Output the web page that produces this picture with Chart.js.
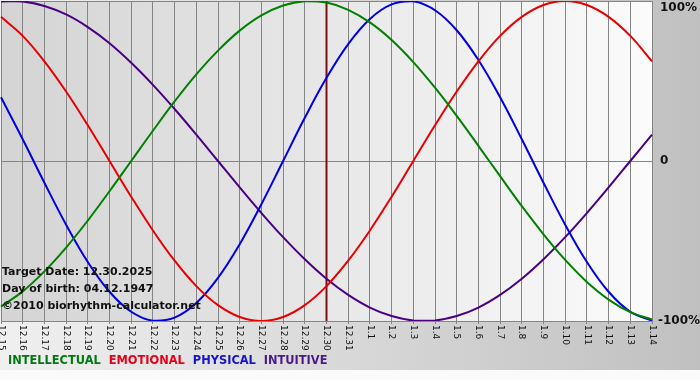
<!DOCTYPE html>
<html>
<head>
<meta charset="utf-8">
<script src="https://cdn.jsdelivr.net/npm/chart.js@4"></script>
<style>
  html, body { margin: 0; padding: 0; background: #fafafa; }
  #wrap { width: 700px; height: 380px; }
</style>
</head>
<body>
<div id="wrap"><canvas id="bio" width="700" height="380"></canvas></div>
<script>
const days = ["12.15","12.16","12.17","12.18","12.19","12.20","12.21","12.22","12.23","12.24","12.25","12.26","12.27","12.28","12.29","12.30","12.31",
  "1.1","1.2","1.3","1.4","1.5","1.6","1.7","1.8","1.9","1.10","1.11","1.12","1.13","1.14"];

const intellectual = [-0.910,-0.815,-0.690,-0.541,-0.372,-0.189,0,0.189,0.372,0.541,0.690,0.815,0.910,0.972,0.999,0.990,0.945,0.866,0.756,0.618,0.458,0.282,0.095,-0.095,-0.282,-0.458,-0.618,-0.756,-0.866,-0.945,-0.990];
const emotional = [0.901,0.782,0.623,0.434,0.223,0,-0.223,-0.434,-0.623,-0.782,-0.901,-0.975,-1,-0.975,-0.901,-0.782,-0.623,-0.434,-0.223,0,0.223,0.434,0.623,0.782,0.901,0.975,1,0.975,0.901,0.782,0.623];
const physical = [0.398,0.136,-0.136,-0.398,-0.631,-0.817,-0.942,-0.998,-0.979,-0.888,-0.731,-0.520,-0.270,0,0.270,0.520,0.731,0.888,0.979,0.998,0.942,0.817,0.631,0.398,0.136,-0.136,-0.398,-0.631,-0.817,-0.942,-0.998];
const intuitive = [0.997,0.997,0.969,0.916,0.837,0.736,0.614,0.476,0.325,0.165,0,-0.165,-0.325,-0.476,-0.614,-0.736,-0.837,-0.916,-0.969,-0.997,-0.997,-0.969,-0.916,-0.837,-0.736,-0.614,-0.476,-0.325,-0.165,0,0.165];

const seriesNames = ["INTELLECTUAL", "EMOTIONAL", "PHYSICAL", "INTUITIVE"];
const yTickValues = [1, 0, -1];
const yTickLabels = ["100%", "0", "-100%"];
const targetDay = "12.30";
const infoLines = ["Target Date: 12.30.2025", "Day of birth: 04.12.1947", "\u00a92010 biorhythm-calculator.net"];

const colors = ["#008000", "#e80000", "#0000e0", "#4b0082"];
const textColors = ["#007a10", "#e8001a", "#1414d0", "#4b1a88"];

// fonds : panneau + zone de tracé
const backdrop = {
  id: "backdrop",
  beforeDraw(chart) {
    const { ctx, chartArea: a, width, height } = chart;
    ctx.save();
    ctx.fillStyle = "#fafafa";
    ctx.fillRect(0, 0, width, height);
    const g = ctx.createLinearGradient(0, 0, width, 0);
    g.addColorStop(0, "#f0f0f0");
    g.addColorStop(1, "#c0c0c0");
    ctx.fillStyle = g;
    ctx.fillRect(0, 0, width, 370);
    const p = ctx.createLinearGradient(a.left, 0, a.right, 0);
    p.addColorStop(0, "#d4d4d4");
    p.addColorStop(1, "#fbfbfb");
    ctx.fillStyle = p;
    ctx.fillRect(a.left, a.top, a.right - a.left, a.bottom - a.top);
    ctx.restore();
  }
};

// ligne de la date cible
const targetLine = {
  id: "targetLine",
  beforeDatasetsDraw(chart) {
    const { ctx, chartArea: a, scales } = chart;
    const x = scales.x.getPixelForValue(days.indexOf(targetDay));
    ctx.save();
    ctx.strokeStyle = "#7a1010";
    ctx.lineWidth = 2;
    ctx.beginPath();
    ctx.moveTo(x, a.top);
    ctx.lineTo(x, a.bottom);
    ctx.stroke();
    ctx.restore();
  }
};

// textes : étiquettes x tournées, % à droite, infos, légende
const texts = {
  id: "texts",
  afterDatasetsDraw(chart) {
    const { ctx, chartArea: a, scales } = chart;
    ctx.save();

    ctx.fillStyle = "#111";
    ctx.font = "9px 'DejaVu Sans', Verdana, sans-serif";
    ctx.textAlign = "left";
    ctx.textBaseline = "middle";
    days.forEach((d, i) => {
      const x = scales.x.getPixelForValue(i);
      ctx.save();
      ctx.translate(x, a.bottom + 4);
      ctx.rotate(Math.PI / 2);
      ctx.fillText(d, 0, 0);
      ctx.restore();
    });

    ctx.font = "bold 12px 'DejaVu Sans', Verdana, sans-serif";
    yTickValues.forEach((v, i) => {
      let y = scales.y.getPixelForValue(v);
      if (y < a.top + 7) y = a.top + 7;
      ctx.fillText(yTickLabels[i], a.right + (v < 0 ? 6 : 8), y);
    });

    ctx.font = "bold 11px 'DejaVu Sans', Verdana, sans-serif";
    const infoY = [272, 289, 306];
    infoLines.forEach((t, i) => ctx.fillText(t, 2, infoY[i]));

    ctx.font = "bold 11.4px 'DejaVu Sans', Verdana, sans-serif";
    let lx = 8;
    seriesNames.forEach((n, i) => {
      ctx.fillStyle = textColors[i];
      ctx.fillText(n, lx, 361);
      lx += ctx.measureText(n).width + 8;
    });
    ctx.restore();
  }
};

const allSeries = [intellectual, emotional, physical, intuitive];

new Chart(document.getElementById("bio"), {
  type: "line",
  data: {
    labels: days,
    datasets: allSeries.map((s, i) => ({
      label: seriesNames[i],
      data: s,
      borderColor: colors[i],
      borderWidth: 2,
      pointRadius: 0,
      tension: 0.4,
      fill: false
    }))
  },
  options: {
    responsive: false,
    animation: false,
    layout: { padding: { left: 1, right: 48, top: 1, bottom: 56 } },
    plugins: { legend: { display: false }, tooltip: { enabled: false } },
    scales: {
      x: {
        offset: false,
        ticks: { display: false },
        grid: { color: "#858585", lineWidth: 1, drawTicks: true, tickLength: 3, tickColor: "#858585" },
        border: { color: "#858585" }
      },
      y: {
        position: "right",
        min: -1,
        max: 1,
        ticks: { display: false, stepSize: 1 },
        grid: { color: "#858585", lineWidth: 1, drawTicks: false },
        border: { color: "#858585" }
      }
    }
  },
  plugins: [backdrop, targetLine, texts]
});
</script>
</body>
</html>
